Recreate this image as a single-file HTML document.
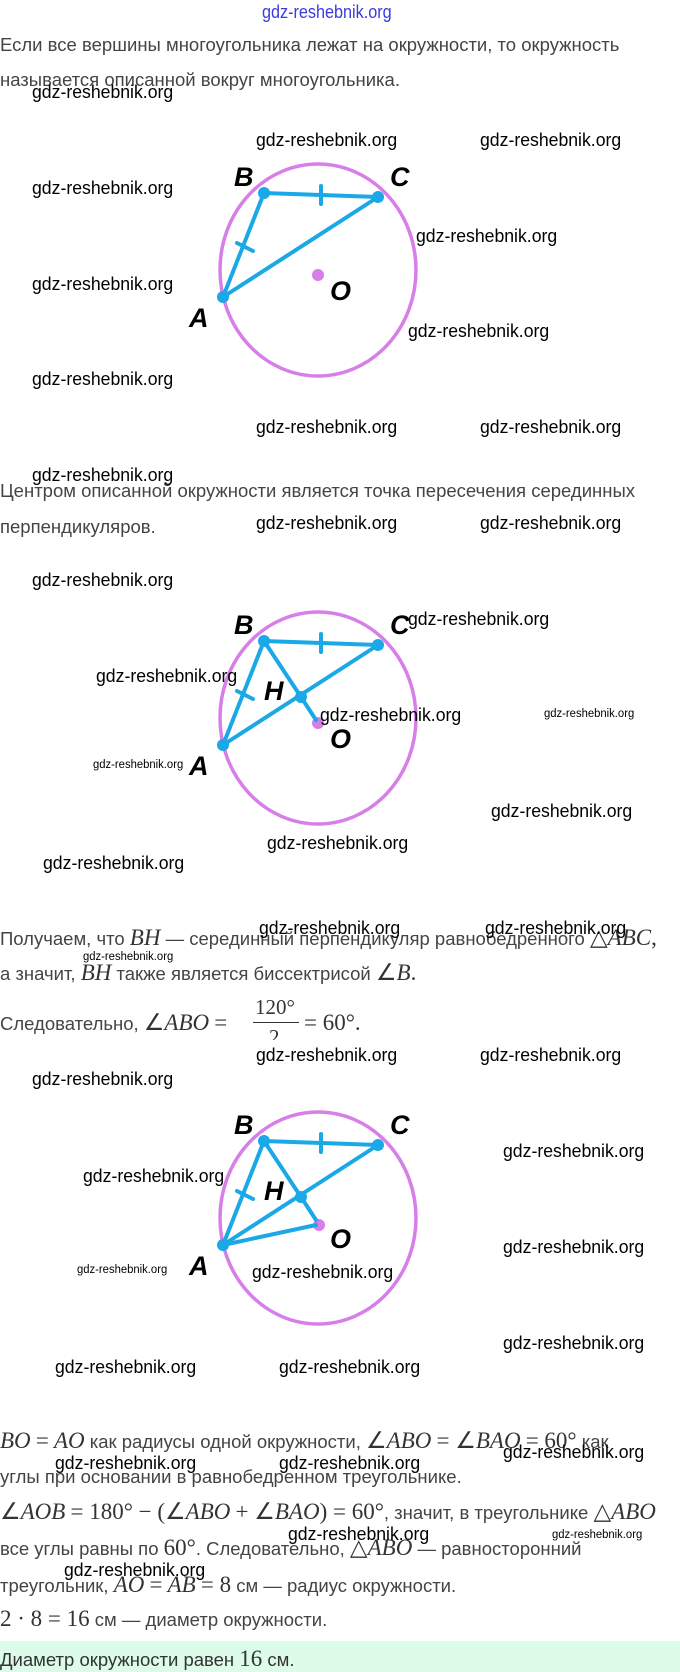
<!DOCTYPE html>
<html><head><meta charset="utf-8">
<style>
html,body{margin:0;padding:0;background:#fff;}
body{width:680px;height:1672px;position:relative;overflow:hidden;font-family:"Liberation Sans",sans-serif;}
.t{position:absolute;left:0;font-size:18.5px;color:#444;white-space:nowrap;line-height:22px;}
.m{font-family:"Liberation Serif",serif;font-style:italic;font-size:23px;color:#333;}
.r{font-family:"Liberation Serif",serif;font-size:23px;color:#333;}
.w{position:absolute;font-size:18px;color:#000;white-space:nowrap;transform:scaleX(0.98);transform-origin:0 50%;line-height:20px;}
.s{font-size:11.5px;}
.green{position:absolute;left:0;top:1641px;width:680px;height:31px;background:#dcfbe9;}
</style></head><body>
<div class="green"></div>
<div style="position:absolute;left:262px;top:2px;font-size:18px;color:#3a3adf;transform:scaleX(0.9);transform-origin:0 0;">gdz-reshebnik.org</div>

<div class="t" style="top:34px;">Если все вершины многоугольника лежат на окружности, то окружность</div>
<div class="t" style="top:69px;">называется описанной вокруг многоугольника.</div>
<div class="t" style="top:480px;">Центром описанной окружности является точка пересечения серединных</div>
<div class="t" style="top:516px;">перпендикуляров.</div>

<div class="t" style="top:927px;">Получаем, что <span class="m">BH</span> — серединный перпендикуляр равнобедренного <span class="r">△</span><span class="m">ABC</span><span class="r">,</span></div>
<div class="t" style="top:962px;">а значит, <span class="m">BH</span> также является биссектрисой <span class="r">∠</span><span class="m">B</span><span class="r">.</span></div>
<div class="t" style="top:1012px;">Следовательно, <span class="r">∠</span><span class="m">ABO</span> <span class="r">=</span></div>
<div style="position:absolute;left:255px;top:995px;font-family:'Liberation Serif',serif;font-size:21px;color:#333;">120°</div>
<div style="position:absolute;left:253px;top:1022px;width:46px;height:1px;background:#333;"></div>
<div style="position:absolute;left:269px;top:1025px;font-family:'Liberation Serif',serif;font-size:21px;color:#333;height:15px;overflow:hidden;">2</div>
<div class="t" style="top:1012px;left:304px;"><span class="r">= 60°.</span></div>

<div class="t" style="top:1430px;"><span class="m">BO</span> <span class="r">=</span> <span class="m">AO</span> как радиусы одной окружности, <span class="r">∠</span><span class="m">ABO</span> <span class="r">= ∠</span><span class="m">BAO</span> <span class="r">= 60°</span> как</div>
<div class="t" style="top:1466px;">углы при основании в равнобедренном треугольнике.</div>
<div class="t" style="top:1501px;"><span class="r">∠</span><span class="m">AOB</span> <span class="r">= 180° − (∠</span><span class="m">ABO</span> <span class="r">+ ∠</span><span class="m">BAO</span><span class="r">) = 60°</span>, значит, в треугольнике <span class="r">△</span><span class="m">ABO</span></div>
<div class="t" style="top:1537px;">все углы равны по <span class="r">60°</span>. Следовательно, <span class="r">△</span><span class="m">ABO</span> — равносторонний</div>
<div class="t" style="top:1574px;">треугольник, <span class="m">AO</span> <span class="r">=</span> <span class="m">AB</span> <span class="r">= 8</span> см — радиус окружности.</div>
<div class="t" style="top:1608px;"><span class="r">2 · 8 = 16</span> см — диаметр окружности.</div>
<div class="t" style="top:1648px;color:#333;">Диаметр окружности равен <span class="r">16</span> см.</div>

<svg width="680" height="1672" style="position:absolute;left:0;top:0;" xmlns="http://www.w3.org/2000/svg">
<g>
<ellipse cx="318" cy="270" rx="98" ry="106" fill="none" stroke="#d77ee8" stroke-width="3.5"/>
<circle cx="318" cy="275" r="6" fill="#d77ee8"/>
<g stroke="#1aa8e6" stroke-width="4" stroke-linecap="round">
<line x1="264" y1="193" x2="378" y2="197"/><line x1="264" y1="193" x2="223" y2="297"/><line x1="223" y1="297" x2="378" y2="197"/>
<line x1="321" y1="186" x2="321" y2="204"/><line x1="237" y1="243" x2="253" y2="251"/>
</g>
<g fill="#1aa8e6"><circle cx="264" cy="193" r="6"/><circle cx="378" cy="197" r="6"/><circle cx="223" cy="297" r="6"/></g>
<g font-family="Liberation Sans, sans-serif" font-style="italic" font-weight="bold" font-size="27" fill="#000">
<text x="234" y="186">B</text><text x="390" y="186">C</text><text x="189" y="327">A</text><text x="330" y="300">O</text></g>
</g>
<g transform="translate(0,448)">
<ellipse cx="318" cy="270" rx="98" ry="106" fill="none" stroke="#d77ee8" stroke-width="3.5"/>
<circle cx="318" cy="275" r="6" fill="#d77ee8"/>
<g stroke="#1aa8e6" stroke-width="4" stroke-linecap="round">
<line x1="264" y1="193" x2="378" y2="197"/><line x1="264" y1="193" x2="223" y2="297"/><line x1="223" y1="297" x2="378" y2="197"/>
<line x1="264" y1="193" x2="301" y2="249"/><line x1="301" y1="249" x2="316" y2="272"/>
<line x1="321" y1="186" x2="321" y2="204"/><line x1="237" y1="243" x2="253" y2="251"/>
</g>
<g fill="#1aa8e6"><circle cx="264" cy="193" r="6"/><circle cx="378" cy="197" r="6"/><circle cx="223" cy="297" r="6"/><circle cx="301" cy="249" r="6"/></g>
<g font-family="Liberation Sans, sans-serif" font-style="italic" font-weight="bold" font-size="27" fill="#000">
<text x="234" y="186">B</text><text x="390" y="186">C</text><text x="189" y="327">A</text><text x="330" y="300">O</text><text x="264" y="252">H</text></g>
</g>
<g transform="translate(0,948)">
<ellipse cx="318" cy="270" rx="98" ry="106" fill="none" stroke="#d77ee8" stroke-width="3.5"/>
<circle cx="319" cy="277" r="6" fill="#d77ee8"/>
<g stroke="#1aa8e6" stroke-width="4" stroke-linecap="round">
<line x1="264" y1="193" x2="378" y2="197"/><line x1="264" y1="193" x2="223" y2="297"/><line x1="223" y1="297" x2="378" y2="197"/>
<line x1="264" y1="193" x2="301" y2="249"/><line x1="301" y1="249" x2="316" y2="272"/><line x1="223" y1="297" x2="316" y2="277"/>
<line x1="321" y1="186" x2="321" y2="204"/><line x1="237" y1="243" x2="253" y2="251"/>
</g>
<g fill="#1aa8e6"><circle cx="264" cy="193" r="6"/><circle cx="378" cy="197" r="6"/><circle cx="223" cy="297" r="6"/><circle cx="301" cy="249" r="6"/></g>
<g font-family="Liberation Sans, sans-serif" font-style="italic" font-weight="bold" font-size="27" fill="#000">
<text x="234" y="186">B</text><text x="390" y="186">C</text><text x="189" y="327">A</text><text x="330" y="300">O</text><text x="264" y="252">H</text></g>
</g>
</svg>

<div class="w" style="left:32px;top:82px;">gdz-reshebnik.org</div>
<div class="w" style="left:256px;top:130px;">gdz-reshebnik.org</div>
<div class="w" style="left:480px;top:130px;">gdz-reshebnik.org</div>
<div class="w" style="left:32px;top:178px;">gdz-reshebnik.org</div>
<div class="w" style="left:416px;top:226px;">gdz-reshebnik.org</div>
<div class="w" style="left:32px;top:274px;">gdz-reshebnik.org</div>
<div class="w" style="left:408px;top:321px;">gdz-reshebnik.org</div>
<div class="w" style="left:32px;top:369px;">gdz-reshebnik.org</div>
<div class="w" style="left:256px;top:417px;">gdz-reshebnik.org</div>
<div class="w" style="left:480px;top:417px;">gdz-reshebnik.org</div>
<div class="w" style="left:32px;top:465px;">gdz-reshebnik.org</div>
<div class="w" style="left:256px;top:513px;">gdz-reshebnik.org</div>
<div class="w" style="left:480px;top:513px;">gdz-reshebnik.org</div>
<div class="w" style="left:32px;top:570px;">gdz-reshebnik.org</div>
<div class="w" style="left:408px;top:609px;">gdz-reshebnik.org</div>
<div class="w" style="left:96px;top:666px;">gdz-reshebnik.org</div>
<div class="w" style="left:320px;top:705px;">gdz-reshebnik.org</div>
<div class="w s" style="left:544px;top:704px;">gdz-reshebnik.org</div>
<div class="w s" style="left:93px;top:755px;">gdz-reshebnik.org</div>
<div class="w" style="left:491px;top:801px;">gdz-reshebnik.org</div>
<div class="w" style="left:267px;top:833px;">gdz-reshebnik.org</div>
<div class="w" style="left:43px;top:853px;">gdz-reshebnik.org</div>
<div class="w s" style="left:83px;top:947px;">gdz-reshebnik.org</div>
<div class="w" style="left:259px;top:918px;">gdz-reshebnik.org</div>
<div class="w" style="left:485px;top:918px;">gdz-reshebnik.org</div>
<div class="w" style="left:256px;top:1045px;">gdz-reshebnik.org</div>
<div class="w" style="left:480px;top:1045px;">gdz-reshebnik.org</div>
<div class="w" style="left:32px;top:1069px;">gdz-reshebnik.org</div>
<div class="w" style="left:503px;top:1141px;">gdz-reshebnik.org</div>
<div class="w" style="left:83px;top:1166px;">gdz-reshebnik.org</div>
<div class="w" style="left:503px;top:1237px;">gdz-reshebnik.org</div>
<div class="w s" style="left:77px;top:1260px;">gdz-reshebnik.org</div>
<div class="w" style="left:252px;top:1262px;">gdz-reshebnik.org</div>
<div class="w" style="left:503px;top:1333px;">gdz-reshebnik.org</div>
<div class="w" style="left:55px;top:1357px;">gdz-reshebnik.org</div>
<div class="w" style="left:279px;top:1357px;">gdz-reshebnik.org</div>
<div class="w" style="left:55px;top:1453px;">gdz-reshebnik.org</div>
<div class="w" style="left:279px;top:1453px;">gdz-reshebnik.org</div>
<div class="w" style="left:503px;top:1442px;">gdz-reshebnik.org</div>
<div class="w" style="left:288px;top:1524px;">gdz-reshebnik.org</div>
<div class="w s" style="left:552px;top:1525px;">gdz-reshebnik.org</div>
<div class="w" style="left:64px;top:1560px;">gdz-reshebnik.org</div>
</body></html>
